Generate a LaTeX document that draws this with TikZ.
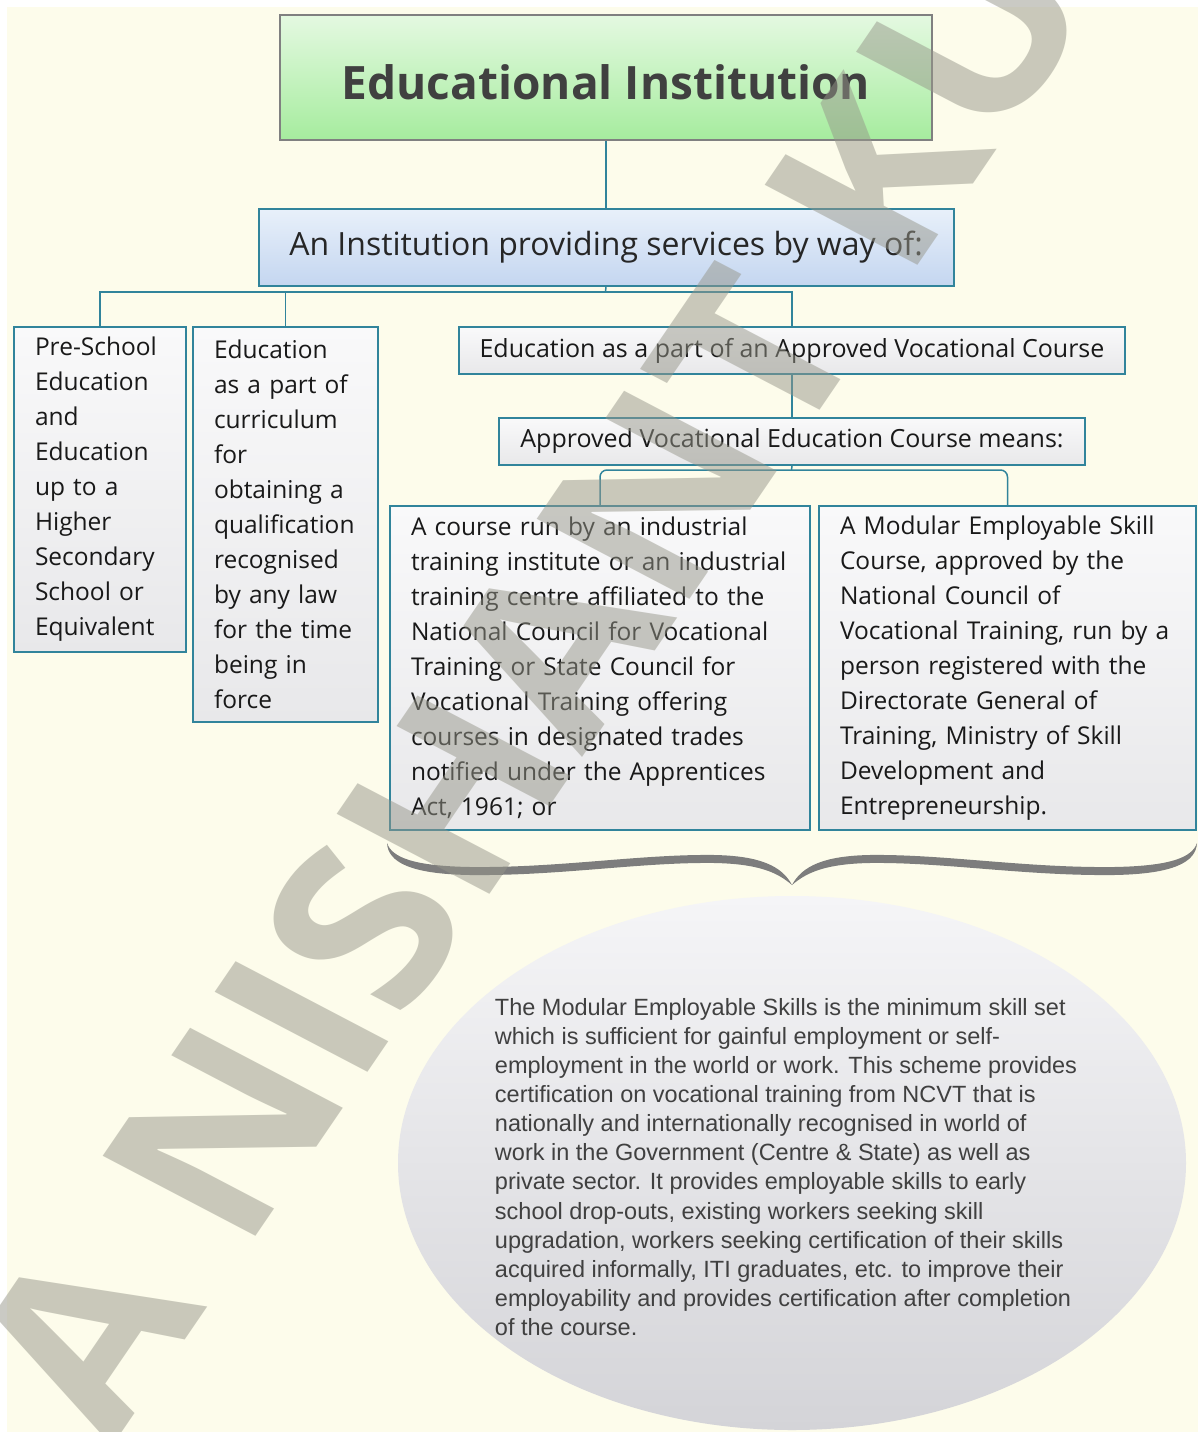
\documentclass[tikz,border=0pt]{standalone}
\usepackage{fontspec}
\setmainfont{Open Sans}
\newfontfamily\notefont{Liberation Sans}
\usetikzlibrary{positioning,shapes.geometric}

\definecolor{paper}{RGB}{253,252,235}
\definecolor{linkteal}{RGB}{49,132,155}
\definecolor{headtop}{RGB}{228,249,225}
\definecolor{headbot}{RGB}{166,236,158}
\definecolor{headline}{RGB}{128,128,128}
\definecolor{waytop}{RGB}{232,240,250}
\definecolor{waybot}{RGB}{196,214,240}
\definecolor{itemtop}{RGB}{249,249,250}
\definecolor{itembot}{RGB}{232,232,234}
\definecolor{notetop}{RGB}{245,245,247}
\definecolor{notebot}{RGB}{212,212,216}
\definecolor{bracegray}{RGB}{125,125,125}
\definecolor{inkgray}{RGB}{64,64,64}
\definecolor{markgray}{RGB}{150,150,138}

\begin{document}
\begin{tikzpicture}[x=1pt, y=-1pt, every node/.style={inner sep=0pt}]
    \tikzstyle{headbox} = [rectangle, draw=headline, line width=1.5pt, top color=headtop, bottom color=headbot, minimum width=652pt, minimum height=125pt, text=inkgray, text height=43pt, text depth=0pt, font=\fontsize{46}{50}\selectfont\bfseries]
    \tikzstyle{waybox} = [rectangle, draw=linkteal, line width=2pt, top color=waytop, bottom color=waybot, minimum width=695pt, minimum height=77pt, text=black!85, font=\fontsize{32}{38}\selectfont]
    \tikzstyle{itembox} = [rectangle, draw=linkteal, line width=2pt, top color=itemtop, bottom color=itembot, text=black!90, inner xsep=21pt, align=left, font=\fontsize{24.5}{35}\selectfont]
    \tikzstyle{notebubble} = [ellipse, top color=notetop, bottom color=notebot, minimum width=788pt, minimum height=534pt]
    \tikzstyle{notetext} = [text=inkgray, align=left, font=\notefont\fontsize{23.5}{29.1}\selectfont]
    \tikzstyle{link} = [draw=linkteal, line width=1.5pt]

    \useasboundingbox (0,0) rectangle (1198,1432);
    \clip (0,0) rectangle (1198,1432);
    \fill[white] (0,0) rectangle (1198,1432);
    \fill[paper] (7,7) rectangle (1198,1432);

    \node (title) [headbox] at (606,77.5) {Educational Institution};
    \node (way) [waybox, below=67pt of title] {An Institution providing services by way of:};

    \node (preschool) [itembox, text width=130pt, minimum height=325pt] at (100,489.5) {Pre-School\\Education\\and\\Education\\up to a\\Higher\\Secondary\\School or\\Equivalent};
    \node (curric) [itembox, text width=143pt, minimum height=395pt] at (285.5,524.5) {Education\\as a part of\\curriculum\\for\\obtaining a\\qualification\\recognised\\by any law\\for the time\\being in\\force};
    \node (voc) [itembox, align=center, minimum width=662pt, minimum height=47pt, font=\fontsize{25}{30}\selectfont] at (792,350.5) {Education as a part of an Approved Vocational Course};
    \node (means) [itembox, align=center, minimum width=583pt, minimum height=47pt, font=\fontsize{25}{30}\selectfont, below=42pt of voc] {Approved Vocational Education Course means:};

    \node (iti) [itembox, text width=378pt, minimum height=324pt] at (600,668) {A course run by an industrial\\training institute or an industrial\\training centre affiliated to the\\National Council for Vocational\\Training or State Council for\\Vocational Training offering\\courses in designated trades\\notified under the Apprentices\\Act, 1961; or};
    \node (mes) [itembox, text width=335pt, minimum height=324pt, right=7pt of iti] {A Modular Employable Skill\\Course, approved by the\\National Council of\\Vocational Training, run by a\\person registered with the\\Directorate General of\\Training, Ministry of Skill\\Development and\\Entrepreneurship.};

    % connectors
    \coordinate (fork) at (605.5,292);
    \draw [link] (title.south) -- (way.north);
    \draw [link] (way.south) -- (fork);
    \draw [link] (fork) -| (preschool.north);
    \draw [link] (fork) -| (curric.north);
    \draw [link] (fork) -| (voc.north);
    \draw [link] (voc.south) -- (means.north);
    \coordinate (split) at (791.5,470);
    \draw [link] (means.south) -- (split);
    \draw [link, rounded corners=7pt] (iti.north) |- (split) -| (mes.north);

    % curly brace under the two course boxes
    \fill[bracegray] (387,843) .. controls (392,858) and (415,866) .. (470,867)
        .. controls (560,868) and (640,854) .. (715,855)
        .. controls (760,856) and (782,866) .. (792,885)
        .. controls (777,872) and (758,864) .. (715,863)
        .. controls (640,862) and (560,876) .. (470,875)
        .. controls (410,874) and (388,862) .. (387,843) -- cycle;
    \fill[bracegray] (1197,843) .. controls (1192,858) and (1169,866) .. (1114,867)
        .. controls (1024,868) and (944,854) .. (869,855)
        .. controls (824,856) and (802,866) .. (792,885)
        .. controls (807,872) and (826,864) .. (869,863)
        .. controls (944,862) and (1024,876) .. (1114,875)
        .. controls (1174,874) and (1196,862) .. (1197,843) -- cycle;

    \node (note) [notebubble] at (792,1163) {};
    \node (notebody) [notetext] at (786,1167) {The Modular Employable Skills is the minimum skill set\\which is sufficient for gainful employment or self-\\employment in the world or work. This scheme provides\\certification on vocational training from NCVT that is\\nationally and internationally recognised in world of\\work in the Government (Centre \& State) as well as\\private sector. It provides employable skills to early\\school drop-outs, existing workers seeking skill\\upgradation, workers seeking certification of their skills\\acquired informally, ITI graduates, etc. to improve their\\employability and provides certification after completion\\of the course.};

    % watermark across the page
    \node (wmark) [text=markgray, text opacity=0.5, cm={0.645,0.945,-1.0,0.524,(0,0)}, anchor=base west, font=\fontsize{214}{214}\selectfont\bfseries] at (112,1447) {A NISHANT KU};
\end{tikzpicture}
\end{document}
